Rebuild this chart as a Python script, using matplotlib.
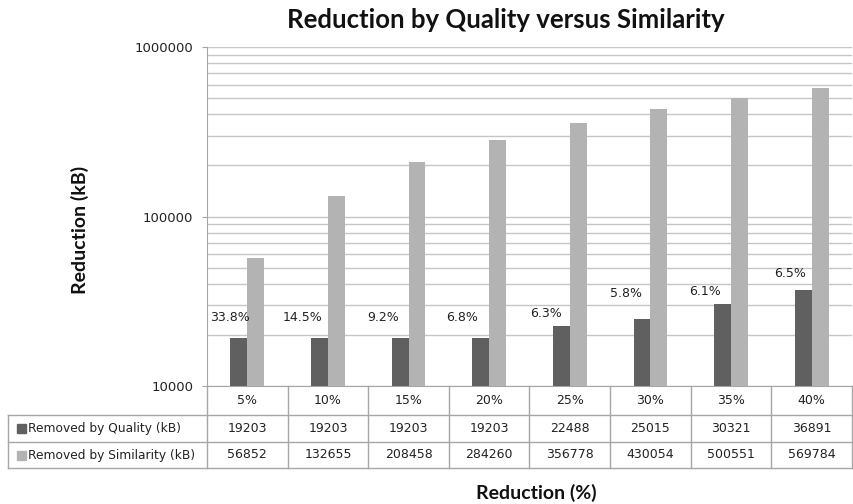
import matplotlib.pyplot as plt
import numpy as np
from matplotlib.patches import Rectangle
from matplotlib.ticker import FuncFormatter, LogLocator, NullFormatter
from matplotlib.transforms import blended_transform_factory

categories = ["5%", "10%", "15%", "20%", "25%", "30%", "35%", "40%"]
quality_kb = [19203, 19203, 19203, 19203, 22488, 25015, 30321, 36891]
similarity_kb = [56852, 132655, 208458, 284260, 356778, 430054, 500551, 569784]
quality_share = ["33.8%", "14.5%", "9.2%", "6.8%", "6.3%", "5.8%", "6.1%", "6.5%"]
series_names = ["Removed by Quality (kB)", "Removed by Similarity (kB)"]

DARK = "#606060"
LIGHT = "#b3b3b3"
GRID = "#c6c6c6"
LINE = "#a6a6a6"
TXT = "#222222"

# label placement in pixels (x from category centre, y above bar top)
label_dx = [-17, -25, -25, -27, -24, -24, -26, -22]
label_dy = [20, 20, 20, 20, 13, 25, 13, 16]

W, H = 854, 504
fig = plt.figure(figsize=(W / 100, H / 100), dpi=100)
ax = fig.add_axes([207 / W, 1 - 386 / H, 645 / W, 339 / H])

x = np.arange(len(categories))
bw = 0.21
ax.bar(x - bw / 2, quality_kb, bw, color=DARK, zorder=3)
ax.bar(x + bw / 2, similarity_kb, bw, color=LIGHT, zorder=3)

ax.set_yscale("log")
ax.set_ylim(10000, 1000000)
ax.set_xlim(-0.5, len(categories) - 0.5)
ax.yaxis.set_minor_locator(LogLocator(base=10, subs=np.arange(2, 10)))
ax.yaxis.set_minor_formatter(NullFormatter())
ax.yaxis.set_major_formatter(FuncFormatter(lambda v, p: f"{v:.0f}"))
ax.grid(axis="y", which="both", color=GRID, linewidth=1.0, zorder=0)
ax.tick_params(axis="y", which="major", length=3.5, color=LINE, labelsize=9.5,
               pad=6.5, labelcolor=TXT)
ax.tick_params(axis="y", which="minor", length=0)
ax.tick_params(axis="x", length=0, labelbottom=False)
for side in ["top", "right"]:
    ax.spines[side].set_visible(False)
ax.spines["left"].set_color(LINE)
ax.spines["bottom"].set_color(LINE)

for i, txt in enumerate(quality_share):
    ax.annotate(txt, (x[i], quality_kb[i]), xytext=(label_dx[i], label_dy[i]),
                textcoords="offset pixels", ha="center", va="center",
                fontsize=9, color=TXT, zorder=4)

# data table under the plot
trans = blended_transform_factory(ax.transData, ax.transAxes)
rows = [0, -29 / 339, -56 / 339, -82 / 339]
left = -199 / 645
lkw = dict(color=LINE, linewidth=1.0, clip_on=False)
for b in np.arange(-0.5, len(categories), 1.0):
    ax.plot([b, b], [rows[0], rows[3]], transform=trans, **lkw)
for r in rows[1:]:
    ax.plot([left, 1], [r, r], transform=ax.transAxes, **lkw)
ax.plot([left, left], [rows[1], rows[3]], transform=ax.transAxes, **lkw)

for i, cat in enumerate(categories):
    ax.text(x[i], (rows[0] + rows[1]) / 2, cat, transform=trans,
            ha="center", va="center", fontsize=9, color=TXT)
    for k, vals in enumerate([quality_kb, similarity_kb]):
        ax.text(x[i], (rows[k + 1] + rows[k + 2]) / 2, str(vals[i]),
                transform=trans, ha="center", va="center", fontsize=9,
                color=TXT)

for k, (name, col) in enumerate(zip(series_names, [DARK, LIGHT])):
    yc = (rows[k + 1] + rows[k + 2]) / 2
    ax.add_patch(Rectangle((-190 / 645, yc - 4.5 / 339), 9 / 645, 9 / 339,
                           transform=ax.transAxes, color=col, clip_on=False))
    ax.text(-179 / 645, yc, name, transform=ax.transAxes, ha="left",
            va="center", fontsize=8.8, color=TXT)

fig.text(506 / W, 1 - 20 / H, "Reduction by Quality versus Similarity",
         ha="center", va="center", fontsize=18.5, fontweight="bold",
         family="Lato", color="#111111")
fig.text(536 / W, 1 - 493 / H, "Reduction (%)", ha="center", va="center",
         fontsize=14, fontweight="bold", family="Lato", color="#111111")
fig.text(80 / W, 1 - 230 / H, "Reduction (kB)", ha="center", va="center",
         rotation=90, fontsize=14, fontweight="bold", family="Lato",
         color="#111111")

fig.savefig("out.png", dpi=100)
